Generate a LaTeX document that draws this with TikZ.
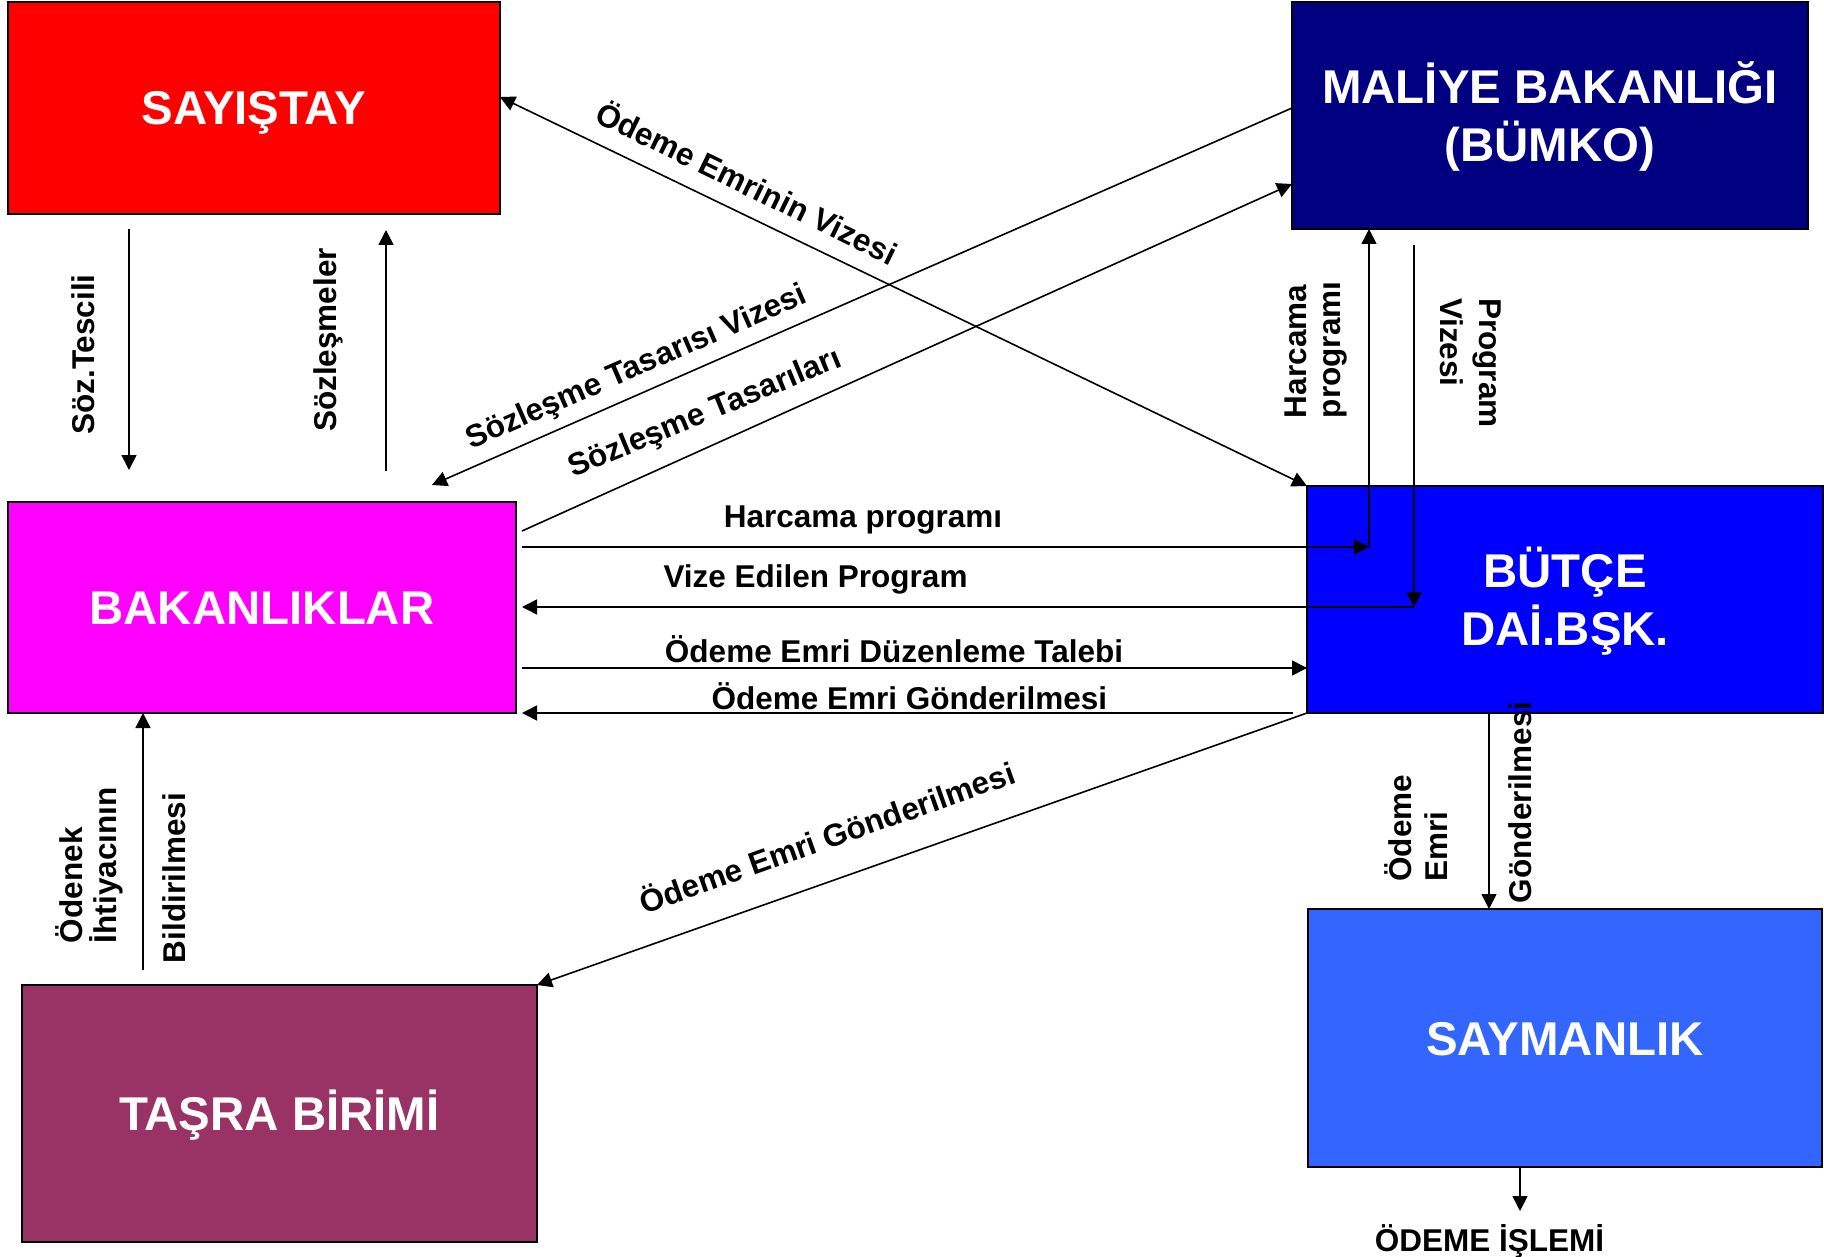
\documentclass[tikz,border=0pt]{standalone}
\usepackage{fontspec}
\setmainfont{Liberation Sans}
\usetikzlibrary{arrows.meta}
\definecolor{cSay}{HTML}{FF0000}
\definecolor{cMal}{HTML}{000080}
\definecolor{cBak}{HTML}{FF00FF}
\definecolor{cBut}{HTML}{0000FF}
\definecolor{cSaym}{HTML}{3366FF}
\definecolor{cTas}{HTML}{993366}
\begin{document}
\begin{tikzpicture}[x=0.5pt,y=-0.5pt,
  box/.style={draw=black, line width=1pt, inner sep=0pt, outer sep=0pt, text=white,
    font=\fontsize{23.7}{29}\selectfont\bfseries, align=center, text height=17pt, text depth=0pt},
  twoline/.style={text height=46pt, text depth=0pt},
  arr/.style={-{Triangle[length=7.5pt,width=7.5pt]}, line width=0.8pt},
  arrb/.style={{Triangle[length=7.5pt,width=7.5pt]}-{Triangle[length=7.5pt,width=7.5pt]}, line width=0.8pt},
  lbl/.style={inner sep=0pt, outer sep=0pt, font=\fontsize{15.75}{18}\selectfont\bfseries},
]
\useasboundingbox (0,0) rectangle (1824,1257);

% boxes
\node[box, fill=cSay, minimum width=246pt, minimum height=106pt] (SAY) at (254,108) {SAYIŞTAY};
\node[box, twoline, fill=cMal, minimum width=258pt, minimum height=113.5pt] (MAL) at (1550,115.5) {MALİYE BAKANLIĞI\\(BÜMKO)};
\node[box, fill=cBak, minimum width=254pt, minimum height=105.5pt] (BAK) at (262,607.5) {BAKANLIKLAR};
\node[box, twoline, fill=cBut, minimum width=258pt, minimum height=113.5pt] (BUT) at (1565,599.5) {BÜTÇE\\DAİ.BŞK.};
\node[box, fill=cSaym, minimum width=257pt, minimum height=129pt] (SAYM) at (1565,1038) {SAYMANLIK};
\node[box, fill=cTas, minimum width=257.5pt, minimum height=128.5pt] (TAS) at (279.5,1113.5) {TAŞRA BİRİMİ};

% free ends
\coordinate (stTop) at (129,229);
\coordinate (stBot) at (129,470);
\coordinate (szBot) at (386,471);
\coordinate (szTop) at (386,230);
\coordinate (stvEnd) at (432,485);
\coordinate (stStart) at (522,531);
\coordinate (hpStart) at (522,547);
\coordinate (hpCorner) at (1369,547);
\coordinate (pvTop) at (1414,245);
\coordinate (pvCorner) at (1414,607);
\coordinate (pvEnd) at (522,607);
\coordinate (dtStart) at (522,668);
\coordinate (gsStart) at (1293,713);
\coordinate (gsEnd) at (522,713);
\coordinate (oiBot) at (143,970);
\coordinate (odEnd) at (1520,1211);

% connectors
\draw[arr] (stTop) -- (stBot);
\draw[arr] (szBot) -- (szTop);
\draw[arrb] (SAY.east |- 0,97) -- (BUT.north west);
\draw[arr] (MAL.west |- 0,108) -- (stvEnd);
\draw[arr] (stStart) -- (MAL.west |- 0,184);
\draw[arr] (hpStart) -- (hpCorner);
\draw[arr] (hpCorner) -- (hpCorner |- MAL.south);
\draw[arr] (pvTop) -- (pvCorner);
\draw[arr] (pvCorner) -- (pvEnd);
\draw[arr] (dtStart) -- (BUT.west |- dtStart);
\draw[arr] (gsStart) -- (gsEnd);
\draw[arr] (BUT.south west) -- (TAS.north east);
\draw[arr] (oiBot) -- (oiBot |- BAK.south);
\draw[arr] (BUT.south -| 1489,0) -- (SAYM.north -| 1489,0);
\draw[arr] (SAYM.south -| odEnd) -- (odEnd);

% labels
\node[lbl, rotate=90, anchor=base] (lSozT) at (94,354.5) {Söz.Tescili};
\node[lbl, rotate=90, anchor=base] (lSozl) at (336.8,340) {Sözleşmeler};
\node[lbl, rotate=-26, anchor=base] (lOEV) at (741.5,193.5) {Ödeme Emrinin Vizesi};
\node[lbl, rotate=23.6, anchor=base] (lSTV) at (640,375.5) {Sözleşme Tasarısı Vizesi};
\node[lbl, rotate=22.5, anchor=base] (lST) at (708.3,421.7) {Sözleşme Tasarıları};
\node[lbl, anchor=base] (lHP) at (863,527) {Harcama programı};
\node[lbl, anchor=base] (lVEP) at (815.5,587) {Vize Edilen Program};
\node[lbl, anchor=base] (lOEDT) at (894,662.7) {Ödeme Emri Düzenleme Talebi};
\node[lbl, anchor=base] (lOEG) at (909.4,709.3) {Ödeme Emri Gönderilmesi};
\node[lbl, rotate=19.5, anchor=base] (lOEGd) at (830.8,848.3) {Ödeme Emri Gönderilmesi};
\node[lbl, rotate=90, anchor=base west] (lHa1) at (1306,418) {Harcama};
\node[lbl, rotate=90, anchor=base west] (lHa2) at (1340.7,418) {programı};
\node[lbl, rotate=-90, anchor=base west] (lPv1) at (1479,298) {Program};
\node[lbl, rotate=-90, anchor=base west] (lPv2) at (1440,298) {Vizesi};
\node[lbl, rotate=90, anchor=base west] (lOi1) at (82,943) {Ödenek};
\node[lbl, rotate=90, anchor=base west] (lOi2) at (116,943) {İhtiyacının};
\node[lbl, rotate=90, anchor=base west] (lOi3) at (185,963) {Bildirilmesi};
\node[lbl, rotate=90, anchor=base west] (lOg1) at (1411,881.7) {Ödeme};
\node[lbl, rotate=90, anchor=base west] (lOg2) at (1447,881.7) {Emri};
\node[lbl, rotate=90, anchor=base west] (lOg3) at (1531,903) {Gönderilmesi};
\node[lbl, anchor=base] (lOI) at (1489.4,1251.7) {ÖDEME İŞLEMİ};
\end{tikzpicture}
\end{document}
